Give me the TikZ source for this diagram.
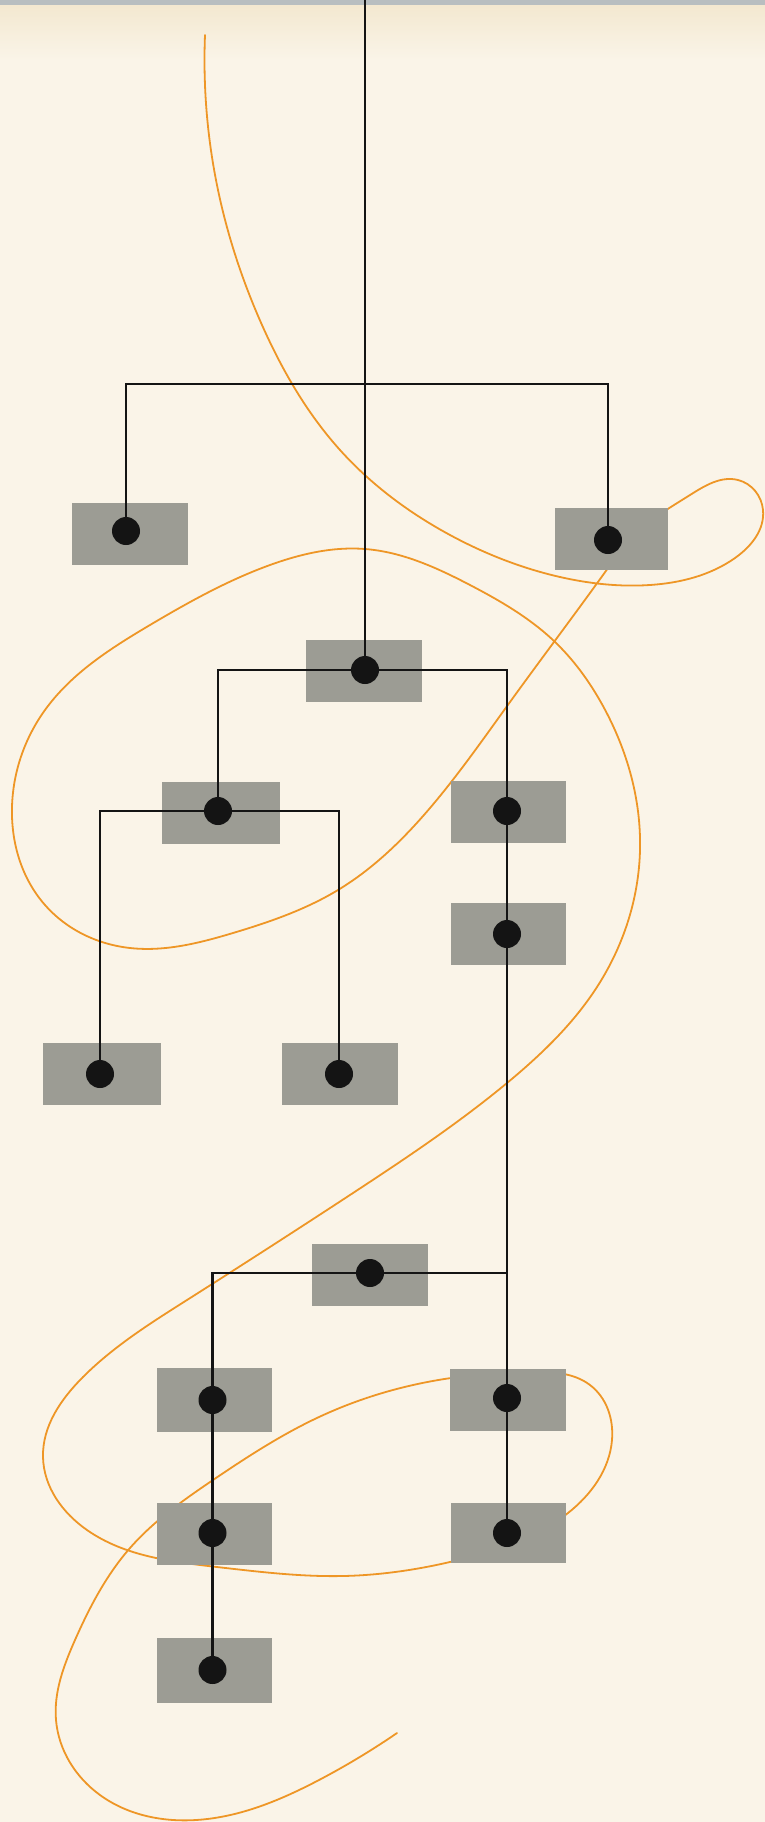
\documentclass[tikz,border=0pt]{standalone}
\usetikzlibrary{calc,hobby}
\definecolor{bgcream}{RGB}{250,244,232}
\definecolor{topband}{RGB}{184,190,192}
\definecolor{topfade}{RGB}{243,232,208}
\definecolor{boxgray}{RGB}{156,156,148}
\definecolor{inkblack}{RGB}{20,20,20}
\definecolor{orangeline}{RGB}{238,150,38}
\tikzset{
  boxnode/.style={rectangle, fill=boxgray, draw=none, inner sep=0pt, minimum width=116pt, minimum height=62pt},
  dotnode/.style={circle, fill=inkblack, draw=none, inner sep=0pt, minimum size=28pt},
  wire/.style={draw=inkblack, line width=2.7pt},
  loopline/.style={draw=orangeline, line width=1.8pt, line cap=round}
}
\begin{document}
\begin{tikzpicture}[x=1pt,y=-1pt]
\useasboundingbox (0,0) rectangle (765,1822);
\fill[bgcream] (0,0) rectangle (765,1822);
\shade[top color=topfade, bottom color=bgcream] (0,5) rectangle (765,60);
\fill[topband] (0,0) rectangle (765,5);

% orange curve (drawn first, passes behind boxes)
\draw[loopline, use Hobby shortcut]
 (205,35) .. (218,190) .. (262,325) .. (340,450) .. (450,535) .. (560,577)
 .. (650,585) .. (735,558) .. (763,510) .. (738,480) .. (690,495) .. (640,530)
 .. (603,575) .. (510,702) .. (430,808) .. (338,890) .. (233,933) .. (130,948)
 .. (45,905) .. (12,807) .. (45,710) .. (150,625) .. (270,565) .. (365,549)
 .. (470,585) .. (554,641) .. (603,706) .. (640,850) .. (597,987) .. (507,1083)
 .. (353,1193) .. (187,1300) .. (83,1377) .. (43,1457) .. (87,1530)
 .. (217,1567) .. (343,1576) .. (470,1557) .. (568,1513) .. (612,1440)
 .. (590,1385) .. (530,1372) .. (451,1378) .. (319,1417) .. (213,1480)
 .. (130,1548) .. (75,1640) .. (56,1720) .. (100,1795) .. (196,1820)
 .. (319,1780) .. (397,1733);

% boxes
\node[boxnode] (b1) at (130,534) {};
\node[boxnode, minimum width=113pt] (b2) at (611.5,539) {};
\node[boxnode] (b3) at (364,671) {};
\node[boxnode, minimum width=118pt] (b4) at (221,812.5) {};
\node[boxnode, minimum width=115pt] (b5) at (508.5,811.5) {};
\node[boxnode, minimum width=115pt] (b6) at (508.5,933.5) {};
\node[boxnode, minimum width=118pt] (b7) at (102,1073.5) {};
\node[boxnode] (b8) at (340,1073.5) {};
\node[boxnode] (b9) at (370,1275) {};
\node[boxnode, minimum width=115pt, minimum height=64pt] (b10) at (214.5,1400) {};
\node[boxnode] (b11) at (508,1400) {};
\node[boxnode, minimum width=115pt] (b12) at (214.5,1533.5) {};
\node[boxnode, minimum width=115pt, minimum height=60pt] (b13) at (508.5,1533) {};
\node[boxnode, minimum width=115pt, minimum height=65pt] (b14) at (214.5,1670.5) {};

% dots
\node[dotnode] (d1) at (126,531) {};
\node[dotnode] (d2) at (608,540) {};
\node[dotnode] (d3) at (365,670) {};
\node[dotnode] (d4) at (218,811) {};
\node[dotnode] (d5) at (507,811) {};
\node[dotnode] (d6) at (507,934) {};
\node[dotnode] (d7) at (100,1074) {};
\node[dotnode] (d8) at (339,1074) {};
\node[dotnode] (d9) at (370,1273) {};
\node[dotnode] (d10) at (212.5,1400) {};
\node[dotnode] (d11) at (507,1398) {};
\node[dotnode] (d12) at (212.5,1533) {};
\node[dotnode] (d13) at (507,1533) {};
\node[dotnode] (d14) at (212.5,1670) {};

\coordinate (top) at (365,0);
\coordinate (j1) at (365,384);

% connectors
\draw[wire] (top) -- (d3.center);
\draw[wire] (d1.center) |- (j1) -| (d2.center);
\draw[wire] (d4.center) |- (d3.center) -| (d5.center);
\draw[wire] (d5.center) -- (d6.center) -- (d11.center) -- (d13.center);
\draw[wire] (d7.center) |- (d4.center) -| (d8.center);
\draw[wire] (d10.center) |- (d9.center) -| (d11.center);
\draw[wire] (d10.center) -- (d12.center) -- (d14.center);
\end{tikzpicture}
\end{document}
